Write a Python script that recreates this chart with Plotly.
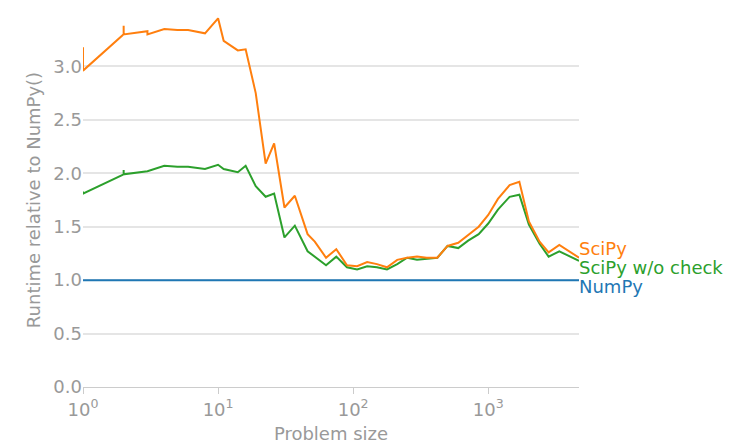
import plotly.graph_objects as go

x = [1, 1, 2, 2, 2, 3, 3, 4, 5, 6, 8, 10, 11, 14, 16, 19, 22.5, 26, 31, 37, 46, 52, 63, 75, 90, 107, 127, 150, 178, 212, 251, 297, 350, 420, 500, 600, 710, 850, 1000, 1180, 1440, 1700, 2000, 2400, 2800, 3360, 4700]
scipy = [3.18, 2.96, 3.30, 3.38, 3.30, 3.33, 3.30, 3.35, 3.34, 3.34, 3.31, 3.45, 3.24, 3.15, 3.16, 2.75, 2.09, 2.28, 1.68, 1.79, 1.43, 1.36, 1.21, 1.29, 1.14, 1.13, 1.17, 1.15, 1.12, 1.19, 1.21, 1.22, 1.21, 1.21, 1.32, 1.35, 1.42, 1.50, 1.61, 1.76, 1.89, 1.92, 1.55, 1.36, 1.26, 1.33, 1.21]
scipy_nocheck = [1.83, 1.81, 1.99, 2.03, 1.99, 2.02, 2.02, 2.07, 2.06, 2.06, 2.04, 2.08, 2.04, 2.01, 2.07, 1.88, 1.78, 1.81, 1.40, 1.51, 1.27, 1.22, 1.14, 1.22, 1.12, 1.10, 1.13, 1.12, 1.10, 1.15, 1.21, 1.19, 1.20, 1.21, 1.32, 1.30, 1.37, 1.43, 1.53, 1.66, 1.78, 1.80, 1.52, 1.34, 1.22, 1.27, 1.18]
numpy_ = [1.0] * len(x)
names = ["SciPy", "SciPy w/o check", "NumPy"]
colors = ["#ff7f0e", "#2ca02c", "#1f77b4"]
label_y = [1.3, 1.12, 0.94]

fig = go.Figure()
for ys, n, c in zip([numpy_, scipy_nocheck, scipy], names[::-1], colors[::-1]):
    fig.add_trace(go.Scatter(x=x, y=ys, mode="lines", name=n, line=dict(color=c, width=2)))
for n, c, ly in zip(names, colors, label_y):
    fig.add_annotation(x=1, xref="paper", xanchor="left", y=ly, yref="y", text=n,
                       showarrow=False, font=dict(color=c, size=18), xshift=-2)

gray = "#999999"
fig.update_layout(
    width=737, height=445, showlegend=False,
    plot_bgcolor="white", paper_bgcolor="white",
    margin=dict(l=75, r=166, t=5, b=66),
    font=dict(family="DejaVu Sans", color=gray, size=18),
    xaxis=dict(type="log", range=[0, 3.672], tickvals=[1, 10, 100, 1000],
               ticktext=["10<sup>0</sup>", "10<sup>1</sup>", "10<sup>2</sup>", "10<sup>3</sup>"],
               showgrid=False, showline=True, linecolor="#cccccc", ticks="outside",
               tickcolor="#cccccc", ticklen=6, automargin=False,
               title=dict(text="Problem size", font=dict(size=18, color=gray), standoff=8),
               zeroline=False),
    yaxis=dict(range=[0, 3.5], dtick=0.5, tickformat=".1f", showgrid=True, gridcolor="#e5e5e5",
               gridwidth=1.5, zeroline=False, showline=False, automargin=False,
               title=dict(text="Runtime relative to NumPy()", font=dict(size=18, color=gray), standoff=8)),
)
fig.write_html("out.html")
